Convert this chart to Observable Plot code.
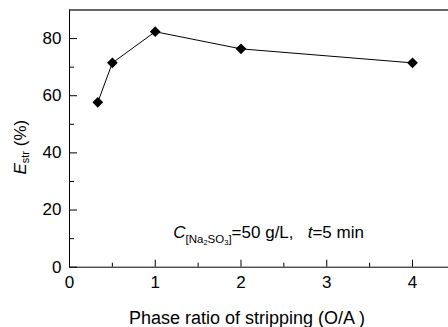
<!DOCTYPE html>
<html><head><meta charset="utf-8">
<script src="https://cdn.jsdelivr.net/npm/d3@7"></script>
<script src="https://cdn.jsdelivr.net/npm/@observablehq/plot@0.6"></script>
<style>
body{margin:0;background:#fff}
svg{font-family:"Liberation Sans",Arial,sans-serif}
</style>
</head><body><div id="chart"></div>
<script>
const phaseRatio = [0.33, 0.5, 1, 2, 4];
const extraction = [57.7, 71.5, 82.4, 76.4, 71.5];
const xMajorTicks = [0, 1, 2, 3, 4];
const xMinorTicks = [0.5, 1.5, 2.5, 3.5];
const yMajorTicks = [0, 20, 40, 60, 80];
const yMinorTicks = [10, 30, 50, 70];
const xTitle = "Phase ratio of stripping (O/A )";
const yTitleParts = ["E", "str", " (%)"];
const noteX = [1.21];
const noteY = [12.2];

const data = phaseRatio.map((x, i) => ({x, y: extraction[i]}));
const blank = () => "";
const FS = 17;

const chart = Plot.plot({
  width: 448, height: 327,
  marginLeft: 69, marginRight: 0, marginTop: 9.5, marginBottom: 60.3,
  style: {fontSize: FS + "px", fontFamily: "'Liberation Sans', Arial, sans-serif", color: "#000", background: "#fff", overflow: "visible"},
  x: {domain: [0, 4.42]},
  y: {domain: [0, 90]},
  marks: [
    Plot.ruleY([0], {stroke: "#000"}),
    Plot.ruleX([0], {stroke: "#000"}),
    Plot.ruleY([90], {stroke: "#333", strokeWidth: 1.5}),
    Plot.axisY(yMajorTicks, {tickSize: 0, tickPadding: 8, label: null, fontSize: FS}),
    Plot.axisY(yMajorTicks, {tickSize: -8, tickFormat: blank, label: null}),
    Plot.axisY(yMinorTicks, {tickSize: -5, tickFormat: blank, label: null}),
    Plot.axisX(xMajorTicks, {tickSize: 0, tickPadding: 9, label: null, fontSize: FS}),
    Plot.axisX(xMajorTicks, {tickSize: -7, tickFormat: blank, label: null}),
    Plot.axisX(xMinorTicks, {tickSize: -4, tickFormat: blank, label: null}),
    Plot.line(data, {x: "x", y: "y", stroke: "#000", strokeWidth: 1}),
    Plot.dot(data, {x: "x", y: "y", symbol: "square", r: 4.3, rotate: 45, fill: "#000", stroke: "none"}),
    Plot.text([xTitle], {text: d => d, frameAnchor: "bottom", dx: -12, dy: 51, fontSize: 18, lineAnchor: "middle", textAnchor: "middle"}),
    Plot.text([yTitleParts.join("")], {text: d => d, frameAnchor: "left", y: () => 42, dx: -49, rotate: -90, textAnchor: "middle", lineAnchor: "middle", fontSize: FS, className: "ylab"}),
    Plot.text(noteX, {x: d => d, y: (d, i) => noteY[i], text: () => "C", textAnchor: "start", fontSize: FS, className: "note"})
  ]
});
document.getElementById("chart").appendChild(chart);

const svg = d3.select(chart);
svg.selectAll(".ylab text").each(function() {
  const t = d3.select(this);
  t.text(null);
  t.append("tspan").attr("font-style", "italic").text(yTitleParts[0]);
  t.append("tspan").attr("font-size", 11).attr("dy", 3).text(yTitleParts[1]);
  t.append("tspan").attr("dy", -3).text(yTitleParts[2]);
});
svg.selectAll(".note text").each(function() {
  const t = d3.select(this);
  t.text(null);
  t.append("tspan").attr("font-style", "italic").text("C");
  t.append("tspan").attr("font-size", 11.5).attr("dy", 5).text("[Na");
  t.append("tspan").attr("font-size", 7.5).attr("dy", 2).text("2");
  t.append("tspan").attr("font-size", 11.5).attr("dy", -2).text("SO");
  t.append("tspan").attr("font-size", 7.5).attr("dy", 2).text("3");
  t.append("tspan").attr("font-size", 11.5).attr("dy", -2).text("]");
  t.append("tspan").attr("dy", -5).text("=50 g/L,\u00a0\u00a0\u00a0");
  t.append("tspan").attr("font-style", "italic").text("t");
  t.append("tspan").text("=5 min");
});
</script>
</body></html>
